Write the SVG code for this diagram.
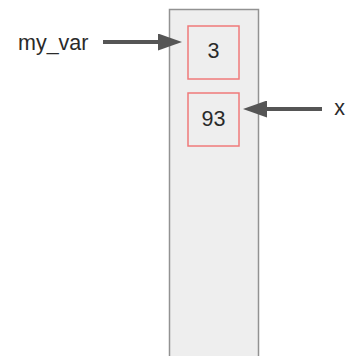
<svg xmlns="http://www.w3.org/2000/svg" width="348" height="356" viewBox="0 0 348 356">
  <style>
    .label { font-family: "Liberation Sans", Arial, sans-serif; font-size: 21.5px; fill: #2a2a2a; }
    .cell { fill: #eeeeee; stroke: #f07a7a; stroke-width: 1.5; }
    .conn { stroke: #555555; stroke-width: 4; fill: none; marker-end: url(#head); }
  </style>
  <defs>
    <marker id="head" viewBox="0 0 24 17" refX="12" refY="8.5" markerWidth="24" markerHeight="17" markerUnits="userSpaceOnUse" orient="auto">
      <path d="M0,0 L24,8.5 L0,17 z" fill="#555555"/>
    </marker>
  </defs>
  <rect width="348" height="356" fill="#ffffff"/>

  <!-- memory column -->
  <g id="memory">
    <rect x="169.5" y="9.5" width="89" height="360" fill="#eeeeee" stroke="#929292" stroke-width="1.5"/>
  </g>

  <g id="cell-3">
    <rect class="cell" x="188" y="26" width="51" height="53"/>
    <text class="label" x="213.5" y="58" text-anchor="middle">3</text>
  </g>

  <g id="cell-93">
    <rect class="cell" x="188" y="93" width="51" height="53"/>
    <text class="label" x="213.5" y="125.5" text-anchor="middle">93</text>
  </g>

  <g id="name-my_var">
    <text class="label" x="18" y="50">my_var</text>
  </g>

  <g id="name-x">
    <text class="label" x="339.5" y="115" text-anchor="middle">x</text>
  </g>

  <g id="connectors">
    <line class="conn" x1="103" y1="42" x2="170" y2="42"/>
    <line class="conn" x1="322" y1="109" x2="255" y2="109"/>
  </g>
</svg>
